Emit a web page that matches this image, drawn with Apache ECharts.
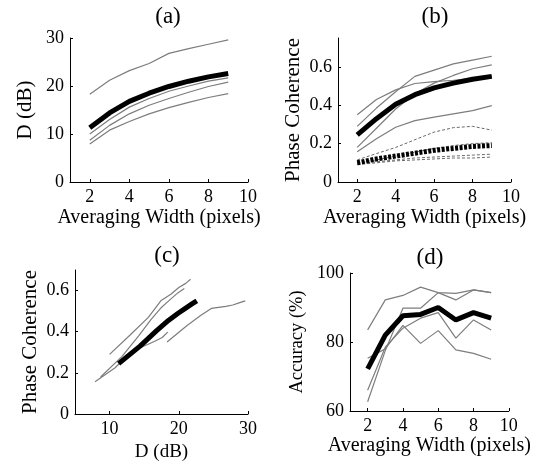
<!DOCTYPE html>
<html>
<head>
<meta charset="utf-8">
<script src="https://cdn.jsdelivr.net/npm/echarts@6/dist/echarts.min.js"></script>
<style>
html, body { margin: 0; padding: 0; background: #fff; }
#main { width: 533px; height: 470px; }
</style>
</head>
<body>
<div id="main"></div>
<script>
// averaging width (pixels)
var widths = [2, 3, 4, 5, 6, 7, 8, 9];

// (a) D (dB) per case, thick = mean
var dA1 = [18.3, 21.2, 23.2, 24.7, 26.8, 27.8, 28.7, 29.6];
var dA3 = [10.0, 13.0, 15.6, 17.4, 18.9, 20.0, 21.0, 21.7];
var dA4 = [8.7, 11.8, 14.2, 16.0, 17.4, 18.7, 19.9, 20.8];
var dA5 = [7.9, 10.8, 12.6, 14.2, 15.5, 16.6, 17.6, 18.4];
var dMean = [11.3, 14.4, 16.8, 18.5, 19.9, 21.0, 21.9, 22.6];

// (b) phase coherence, solid
var pB1 = [0.35, 0.43, 0.48, 0.513, 0.523, 0.53, 0.54, 0.55];
var pB2 = [0.29, 0.385, 0.47, 0.55, 0.583, 0.615, 0.635, 0.655];
var pB3 = [0.18, 0.28, 0.38, 0.46, 0.515, 0.555, 0.59, 0.61];
var pB4 = [0.157, 0.225, 0.285, 0.32, 0.338, 0.355, 0.372, 0.398];
var pMean = [0.245, 0.33, 0.405, 0.455, 0.49, 0.515, 0.535, 0.55];
// (b) phase coherence, dashed
var qB1 = [0.115, 0.148, 0.18, 0.22, 0.26, 0.283, 0.29, 0.27];
var qB2 = [0.1, 0.115, 0.135, 0.155, 0.175, 0.19, 0.2, 0.205];
var qB3 = [0.095, 0.105, 0.115, 0.125, 0.13, 0.135, 0.14, 0.145];
var qB4 = [0.09, 0.1, 0.11, 0.115, 0.12, 0.125, 0.125, 0.13];
var qMean = [0.1, 0.12, 0.135, 0.15, 0.165, 0.175, 0.185, 0.19];

// (d) accuracy (%)
var acc1 = [83.5, 92.2, 93.5, 95.9, 94.3, 94.1, 95.1, 94.3];
var acc2 = [62.7, 77.5, 89.8, 89.8, 94.3, 92.2, 95.1, 94.3];
var acc3 = [66.0, 78.5, 84.0, 86.9, 88.5, 81.1, 86.4, 83.5];
var acc4 = [75.3, 78.0, 84.8, 79.6, 83.3, 77.7, 76.7, 75.0];
var accMean = [72.2, 82.0, 87.6, 88.0, 90.0, 86.4, 88.5, 86.9];

// tick labels
var wTicks = [2, 4, 6, 8, 10];
var dTicks = [0, 10, 20, 30];
var pTicks = [0, 0.2, 0.4, 0.6];
var dxTicks = [10, 20, 30];
var accTicks = [60, 80, 100];

var FONT = 'Liberation Serif';
var gray = { color: '#7d7d7d', width: 1.2 };
var black = { color: '#000', width: 5 };
var grayDash = { color: '#6a6a6a', width: 1, type: [3, 2] };
var blackDash = { color: '#000', width: 5, type: [3, 1.5] };

function zip(xs, ys) {
	var out = [];
	for (var i = 0; i < xs.length; i++) out.push([xs[i], ys[i]]);
	return out;
}
function line(gi, xs, ys, style, z) {
	return {
		type: 'line', xAxisIndex: gi, yAxisIndex: gi,
		data: zip(xs, ys), symbol: 'none', silent: true,
		lineStyle: style, z: z || 2
	};
}
function axis(gi, min, max, ticks, name, nameSize, nameGap) {
	return {
		type: 'value', gridIndex: gi, min: min, max: max,
		name: name, nameLocation: 'middle', nameGap: nameGap,
		nameTextStyle: { fontFamily: FONT, fontSize: nameSize, color: '#000' },
		axisLine: { show: true, lineStyle: { color: '#000', width: 1 } },
		axisTick: { show: true, inside: true, length: 3, customValues: ticks, lineStyle: { color: '#000' } },
		axisLabel: { customValues: ticks, fontFamily: FONT, fontSize: 18, color: '#000', margin: 6 },
		splitLine: { show: false }
	};
}

var chart = echarts.init(document.getElementById('main'));
var option = {
	animation: false,
	backgroundColor: '#fff',
	grid: [
		{ left: 70, top: 38, width: 178, height: 144 },
		{ left: 338, top: 38, width: 173, height: 144 },
		{ left: 75, top: 270, width: 173, height: 144 },
		{ left: 350, top: 273, width: 161, height: 138 }
	],
	xAxis: [
		axis(0, 1, 10, wTicks, 'Averaging Width (pixels)', 20, 26),
		axis(1, 1, 10, wTicks, 'Averaging Width (pixels)', 20, 26),
		axis(2, 5, 30, dxTicks, 'D (dB)', 19, 29),
		axis(3, 1, 10, wTicks, 'Averaging Width (pixels)', 20, 24)
	],
	yAxis: [
		axis(0, 0, 30, dTicks, 'D (dB)', 21, 34),
		axis(1, 0, 0.75, pTicks, 'Phase Coherence', 21, 34),
		axis(2, 0, 0.7, pTicks, 'Phase Coherence', 21, 34),
		axis(3, 60, 100, accTicks, 'Accuracy (%)', 18.5, 43)
	],
	graphic: [
		{ type: 'text', x: 168, y: 17, style: { text: '(a)', fontFamily: FONT, fontSize: 23, fill: '#000', align: 'center', verticalAlign: 'middle' } },
		{ type: 'text', x: 435, y: 17, style: { text: '(b)', fontFamily: FONT, fontSize: 23, fill: '#000', align: 'center', verticalAlign: 'middle' } },
		{ type: 'text', x: 167, y: 256, style: { text: '(c)', fontFamily: FONT, fontSize: 23, fill: '#000', align: 'center', verticalAlign: 'middle' } },
		{ type: 'text', x: 430, y: 258, style: { text: '(d)', fontFamily: FONT, fontSize: 23, fill: '#000', align: 'center', verticalAlign: 'middle' } }
	],
	series: [
		// (a)
		line(0, widths, dA1, gray), line(0, widths, dA3, gray),
		line(0, widths, dA4, gray), line(0, widths, dA5, gray),
		line(0, widths, dMean, black, 5),
		// (b)
		line(1, widths, qB1, grayDash), line(1, widths, qB2, grayDash),
		line(1, widths, qB3, grayDash), line(1, widths, qB4, grayDash),
		line(1, widths, qMean, blackDash, 4),
		line(1, widths, pB1, gray), line(1, widths, pB2, gray),
		line(1, widths, pB3, gray), line(1, widths, pB4, gray),
		line(1, widths, pMean, black, 5),
		// (c) D against phase coherence
		line(2, dA1, pB1, gray), line(2, dA3, pB2, gray),
		line(2, dA4, pB3, gray), line(2, dA5, pB4, gray),
		line(2, dMean, pMean, black, 5),
		// (d)
		line(3, widths, acc1, gray), line(3, widths, acc2, gray),
		line(3, widths, acc3, gray), line(3, widths, acc4, gray),
		line(3, widths, accMean, black, 5)
	]
};
chart.setOption(option);
</script>
</body>
</html>
